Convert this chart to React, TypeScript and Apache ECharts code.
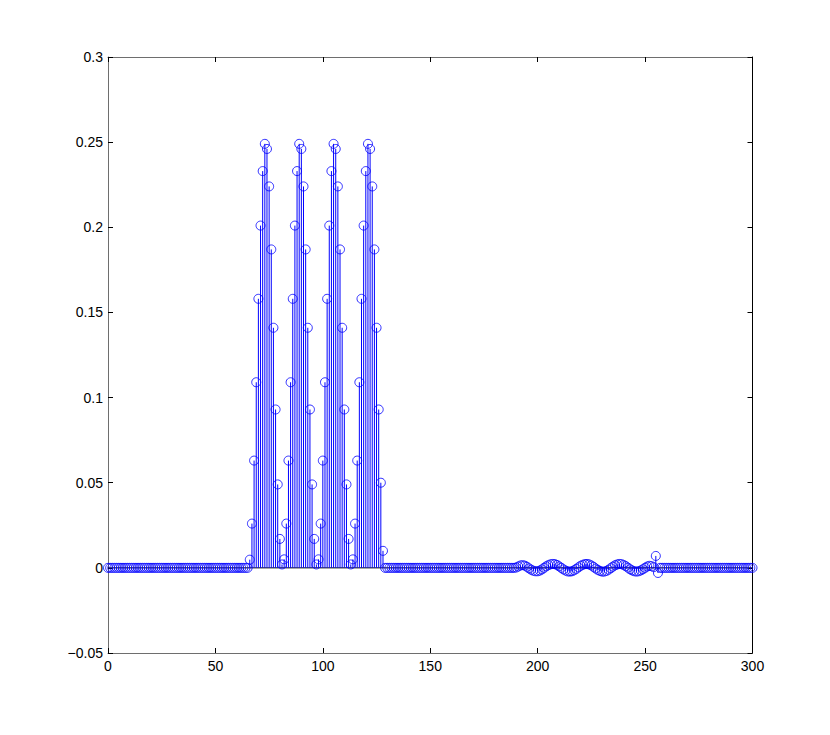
import React, { useEffect, useRef } from "react";
import * as echarts from "echarts";

// Sample index range
const X_MIN = 0;
const X_MAX = 300;

// Four raised pulses, with their first sample index
const pulse1Start = 66;
const pulse1 = [0.0048, 0.026, 0.063, 0.109, 0.158, 0.201, 0.233, 0.249, 0.246, 0.224, 0.187, 0.141, 0.093, 0.049, 0.017, 0.002];
const pulse2Start = 82;
const pulse2 = [0.005, 0.026, 0.063, 0.109, 0.158, 0.201, 0.233, 0.249, 0.246, 0.224, 0.187, 0.141, 0.093, 0.049, 0.017, 0.002];
const pulse3Start = 98;
const pulse3 = [0.005, 0.026, 0.063, 0.109, 0.158, 0.201, 0.233, 0.249, 0.246, 0.224, 0.187, 0.141, 0.093, 0.049, 0.017, 0.002];
const pulse4Start = 114;
const pulse4 = [0.005, 0.026, 0.063, 0.109, 0.158, 0.201, 0.233, 0.249, 0.246, 0.224, 0.187, 0.141, 0.093, 0.050, 0.010];

// Small ripple after the pulses
const rippleStart = 190;
const ripple = [
  0.0002, 0.0008, 0.0014, 0.0016, 0.0013, 0.0006, -0.0003, -0.0011, -0.0017, -0.002,
  -0.002, -0.0016, -0.0009, 0.0, 0.0009, 0.0016, 0.0021, 0.0023, 0.0022, 0.0017,
  0.0009, 0.0, -0.0009, -0.0016, -0.0021, -0.0022, -0.002, -0.0014, -0.0006, 0.0003,
  0.0012, 0.0018, 0.0022, 0.0023, 0.002, 0.0014, 0.0006, -0.0004, -0.0012, -0.0018,
  -0.0022, -0.0022, -0.0018, -0.0011, -0.0002, 0.0007, 0.0015, 0.002, 0.0023, 0.0022,
  0.0017, 0.001, 0.0001, -0.0008, -0.0015, -0.002, -0.0022, -0.002, -0.0015, -0.0008,
  0.0, 0.0008, 0.0012, 0.001, 0.0004, 0.007, -0.003,
];

// Axis ticks
const xTicks = [0, 50, 100, 150, 200, 250, 300];
const yTicks = [-0.05, 0, 0.05, 0.1, 0.15, 0.2, 0.25, 0.3];

const segments = [
  { start: pulse1Start, values: pulse1 },
  { start: pulse2Start, values: pulse2 },
  { start: pulse3Start, values: pulse3 },
  { start: pulse4Start, values: pulse4 },
  { start: rippleStart, values: ripple },
];

function buildData(): number[][] {
  const map = new Map<number, number>();
  segments.forEach((s) => s.values.forEach((v, i) => map.set(s.start + i, v)));
  const out: number[][] = [];
  for (let n = X_MIN; n <= X_MAX; n++) out.push([n, map.has(n) ? (map.get(n) as number) : 0]);
  return out;
}

const FONT = "'Liberation Sans', Arial, Helvetica, sans-serif";

export default function App() {
  const ref = useRef<HTMLDivElement>(null);
  useEffect(() => {
    if (!ref.current) return;
    const chart = echarts.init(ref.current, undefined, { renderer: "svg" });
    const data = buildData();
    const xInterval = xTicks[1] - xTicks[0];
    const yInterval = Math.round((yTicks[1] - yTicks[0]) * 100) / 100;
    const fmtY = (v: number) => String(Math.round(v * 100) / 100).replace("-", "\u2212");
    const common = { splitLine: { show: false } };
    chart.setOption({
      animation: false,
      backgroundColor: "#ffffff",
      grid: { left: 108, top: 57, right: 77.5, bottom: 82, containLabel: false },
      xAxis: [
        {
          type: "value", min: xTicks[0], max: xTicks[xTicks.length - 1], interval: xInterval, position: "bottom",
          axisLine: { show: true, onZero: false, lineStyle: { color: "#6e6e6e", width: 1 } },
          axisTick: { show: true, inside: true, length: 5, lineStyle: { color: "#000" } },
          axisLabel: { color: "#000", fontSize: 14, fontFamily: FONT, margin: 6 },
          ...common,
        },
        {
          type: "value", min: xTicks[0], max: xTicks[xTicks.length - 1], interval: xInterval, position: "top",
          axisLine: { show: true, onZero: false, lineStyle: { color: "#6e6e6e", width: 1 } },
          axisTick: { show: true, inside: true, length: 5, lineStyle: { color: "#000" } },
          axisLabel: { show: false },
          ...common,
        },
      ],
      yAxis: [
        {
          type: "value", min: yTicks[0], max: yTicks[yTicks.length - 1], interval: yInterval, position: "left",
          axisLine: { show: true, onZero: false, lineStyle: { color: "#6e6e6e", width: 1 } },
          axisTick: { show: true, inside: true, length: 5, lineStyle: { color: "#000" } },
          axisLabel: { color: "#000", fontSize: 14, fontFamily: FONT, margin: 5, formatter: fmtY },
          ...common,
        },
        {
          type: "value", min: yTicks[0], max: yTicks[yTicks.length - 1], interval: yInterval, position: "right",
          axisLine: { show: true, onZero: false, lineStyle: { color: "#000", width: 1 } },
          axisTick: { show: true, inside: true, length: 5, lineStyle: { color: "#000" } },
          axisLabel: { show: false },
          ...common,
        },
      ],
      series: [
        {
          type: "line",
          xAxisIndex: 0, yAxisIndex: 0,
          data: [[X_MIN, 0], [X_MAX, 0]],
          showSymbol: false,
          lineStyle: { color: "#000", width: 1 },
          z: 1,
          silent: true,
        },
        {
          type: "custom",
          xAxisIndex: 0, yAxisIndex: 0,
          data,
          z: 2,
          renderItem: (params: any, api: any) => {
            const x = api.value(0);
            const y = api.value(1);
            const p0 = api.coord([x, 0]);
            const p1 = api.coord([x, y]);
            return {
              type: "line",
              shape: { x1: p0[0], y1: p0[1], x2: p1[0], y2: p1[1] },
              style: { stroke: "#0000ff", lineWidth: 1 },
            };
          },
        },
        {
          type: "scatter",
          xAxisIndex: 0, yAxisIndex: 0,
          data,
          symbol: "circle",
          symbolSize: 9,
          z: 3,
          itemStyle: { color: "rgba(0,0,0,0)", borderColor: "#0000ff", borderWidth: 1 },
        },
      ],
    });
    return () => chart.dispose();
  }, []);
  return <div ref={ref} style={{ position: "absolute", left: 0, top: 0, width: 830, height: 735 }} />;
}
